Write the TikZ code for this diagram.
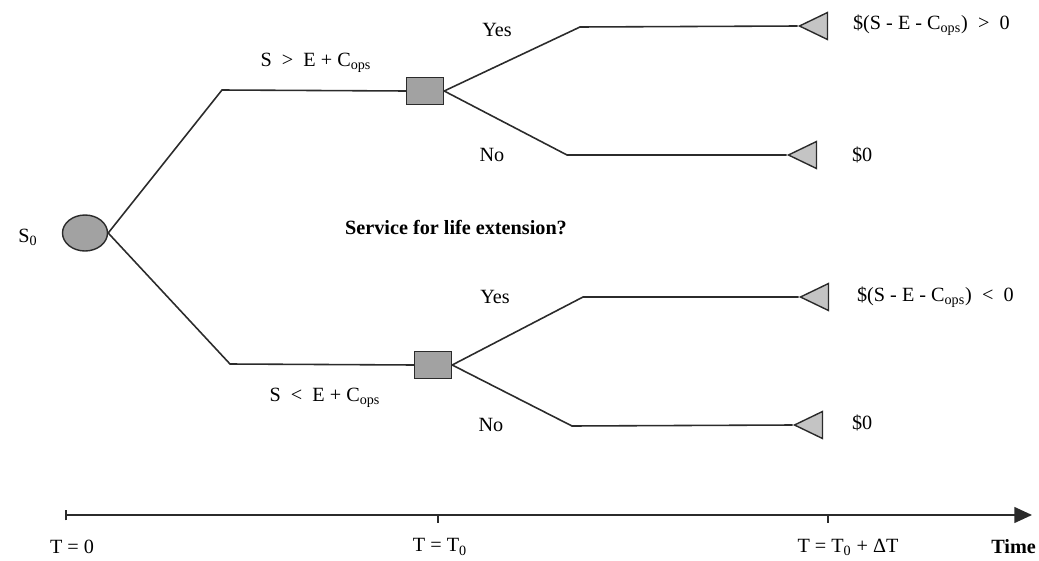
\documentclass[tikz,border=0pt]{standalone}
\usepackage{fontspec}
\setmainfont{Liberation Serif}
\usepackage{xcolor}
\usetikzlibrary{arrows.meta,shapes.geometric}
\definecolor{nodegray}{HTML}{A2A2A2}
\definecolor{tipgray}{HTML}{C4C4C4}
\definecolor{ink}{HTML}{2B2B2B}

\begin{document}
\begin{tikzpicture}[x=0.02cm,y=-0.02cm,
  font=\fontsize{11.5}{13}\selectfont,
  chance/.style={ellipse,draw=ink,fill=nodegray,line width=0.8pt,
                 minimum width=0.9cm,minimum height=0.72cm,inner sep=0pt},
  decision/.style={rectangle,draw=ink,fill=nodegray,line width=0.8pt,
                   minimum width=0.74cm,minimum height=0.54cm,inner sep=0pt},
  payoff/.style={isosceles triangle,isosceles triangle stretches,
                 shape border rotate=180,draw=ink,fill=tipgray,line width=0.8pt,
                 minimum width=0.54cm,minimum height=0.56cm,inner sep=0pt},
  branch/.style={draw=ink,line width=0.9pt},
  lbl/.style={inner sep=1pt},
  axisline/.style={draw=ink,line width=0.9pt}]
  \useasboundingbox (0,0) rectangle (1039,561);

  % tree nodes
  \node[chance]   (s0) at (85,233) {};
  \node[lbl]      (s0lbl) at (28,237) {S\textsubscript{0}};
  \node[decision] (up) at (425,91) {};
  \node[decision] (lo) at (433,365) {};
  \node[payoff]   (uy) at (819,26) {};
  \node[payoff]   (un) at (808,155) {};
  \node[payoff]   (ly) at (820,297) {};
  \node[payoff]   (ln) at (814,425) {};

  % bend points of the branches
  \coordinate (ub) at (222,90);
  \coordinate (lb) at (230,364);
  \coordinate (uyb) at (580,27);
  \coordinate (unb) at (567,155);
  \coordinate (lyb) at (583,297);
  \coordinate (lnb) at (572,426);

  \draw[branch] (s0.east) -- (ub) -- (up.west);
  \draw[branch] (s0.east) -- (lb) -- (lo.west);
  \draw[branch] (up.east) -- (uyb) -- (uy.apex);
  \draw[branch] (up.east) -- (unb) -- (un.apex);
  \draw[branch] (lo.east) -- (lyb) -- (ly.apex);
  \draw[branch] (lo.east) -- (lnb) -- (ln.apex);

  % branch labels
  \node[lbl] (upcond) at (316,63) {S\enspace>\enspace E + C\textsubscript{ops}};
  \node[lbl] (locond) at (325,398) {S\enspace<\enspace E + C\textsubscript{ops}};
  \node[lbl] (uyes) at (497,30) {Yes};
  \node[lbl] (uno)  at (492,155) {No};
  \node[lbl] (lyes) at (495,297) {Yes};
  \node[lbl] (lno)  at (491,425) {No};
  \node[lbl,font=\fontsize{11.5}{13}\selectfont\bfseries] (question) at (456,228)
       {Service for life extension?};

  % payoffs
  \node[lbl,anchor=west] (uyval) at (851,25) {\$(S - E - C\textsubscript{ops})~~>~~0};
  \node[lbl,anchor=west] (unval) at (850,155) {\$0};
  \node[lbl,anchor=west] (lyval) at (855,297) {\$(S - E - C\textsubscript{ops})~~<~~0};
  \node[lbl,anchor=west] (lnval) at (850,423) {\$0};

  % time axis
  \coordinate (tstart) at (65,515);
  \coordinate (tend) at (1032,515);
  \draw[axisline,{Bar[width=6pt]}-{Triangle[length=10pt,width=9pt]}] (tstart) -- (tend);
  \foreach \x in {438,828}
    \draw[axisline] (\x,515) -- ++(0,8);
  \node[lbl] (t0)  at (72,547) {T = 0};
  \node[lbl] (t1)  at (440,547) {T = T\textsubscript{0}};
  \node[lbl] (t2)  at (848,547) {T = T\textsubscript{0} + ΔT};
  \node[lbl,anchor=east,font=\fontsize{11.5}{13}\selectfont\bfseries] (time) at (1038,547) {Time};
\end{tikzpicture}
\end{document}
